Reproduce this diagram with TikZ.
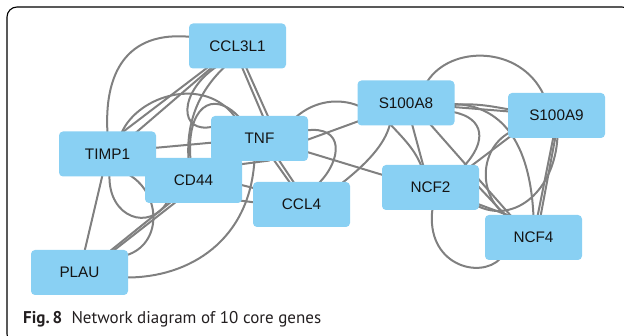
\documentclass[tikz,border=0pt]{standalone}
\usepackage{fontspec}
\setmainfont{Liberation Sans}
\newfontfamily\capfont{PT Sans}
\usetikzlibrary{calc}
\definecolor{nodeblue}{RGB}{137,208,243}
\definecolor{edgegray}{RGB}{128,128,128}
\definecolor{captext}{RGB}{35,31,32}
\pgfdeclarelayer{edges}
\pgfsetlayers{edges,main}
\begin{document}
\begin{tikzpicture}[x=1pt,y=-1pt,
  gene/.style={fill=nodeblue, rounded corners=4pt, minimum width=97pt, minimum height=45pt,
    inner sep=0pt, font=\fontsize{15.3}{18}\selectfont, text=black!92},
  link/.style={draw=edgegray, line width=2pt}]
\useasboundingbox (0,0) rectangle (624,336);
\clip (0,0) rectangle (624,336);
\draw[line width=1.1pt, rounded corners=10pt] (7,344) rectangle (632,7);

\node[gene] (CCL3L1) at (237.5,46) {CCL3L1};
\node[gene] (TIMP1) at (107.5,154) {TIMP1};
\node[gene] (CD44) at (193.5,180.5) {CD44};
\node[gene] (TNF) at (259.5,138.5) {TNF};
\node[gene] (CCL4) at (301.5,204.5) {CCL4};
\node[gene] (PLAU) at (79.5,272.5) {PLAU};
\node[gene] (S100A8) at (406,103) {S100A8};
\node[gene] (S100A9) at (556.5,115.5) {S100A9};
\node[gene] (NCF2) at (430.5,187.5) {NCF2};
\node[gene] (NCF4) at (533.5,237.5) {NCF4};

\begin{pgfonlayer}{edges}
% left cluster
\draw[link] ($(CCL3L1)+(-46,-9)$) .. controls (125,30) and (104,75) .. ($(TIMP1)+(0,-21)$);
\draw[link] ($(CCL3L1)+(-28,20)$) -- ($(TIMP1)+(14,-21)$);
\draw[link] ($(CCL3L1)+(-24,20)$) -- ($(TIMP1)+(28,-21)$);
\draw[link] ($(TIMP1)+(14,-21)$) .. controls (138,95) and (205,75) .. ($(TNF)+(-24,-21)$);
\draw[link] ($(TIMP1)+(46,-6)$) -- ($(TNF)+(-46,4)$);
\draw[link] ($(CCL3L1)+(4,20)$) -- ($(TNF)+(4,-21)$);
\draw[link] ($(CCL3L1)+(8,20)$) -- ($(TNF)+(9,-21)$);
\draw[link] ($(CCL3L1)+(-12,20)$) .. controls (200,90) and (186,120) .. ($(CD44)+(-5,-21)$);
\draw[link] ($(CCL3L1)+(-20,20)$) .. controls (178,92) and (178,135) .. ($(TNF)+(-46,-12)$);
\draw[link] ($(CD44)+(-3,-21)$) .. controls (186,108) and (212,88) .. ($(TNF)+(-20,-21)$);
\draw[link] ($(CD44)+(30,-14)$) -- ($(TNF)+(10,22)$);
\draw[link] ($(CD44)+(30,0)$) -- ($(CCL4)+(-30,-12)$);
\draw[link] ($(CD44)+(30,18)$) -- ($(CCL4)+(-30,0)$);
\draw[link] ($(TNF)+(14,21)$) -- ($(CCL4)+(-11,-21)$);
\draw[link] ($(TNF)+(19,21)$) -- ($(CCL4)+(-7,-21)$);
\draw[link] ($(PLAU)+(46,5)$) .. controls (190,278) and (250,240) .. ($(TNF)+(-5,21)$);
\draw[link] ($(PLAU)+(5,-21)$) -- ($(TIMP1)+(-5,21)$);
\draw[link] ($(PLAU)+(30,-21)$) -- ($(CD44)+(-22,21)$);
\draw[link] ($(PLAU)+(33,-21)$) -- ($(CD44)+(-17,21)$);
\draw[link] ($(PLAU)+(46,-17)$) .. controls (162,245) and (162,195) .. ($(TIMP1)+(22,21)$);
\draw[link] ($(TIMP1)+(2,21)$) .. controls (108,218) and (150,232) .. ($(CD44)+(-26,21)$);
% centre
\draw[link] ($(TNF)+(46,2)$) -- ($(S100A8)+(-47,18)$);
\draw[link] ($(TNF)+(36,-21)$) .. controls (315,100) and (340,98) .. ($(S100A8)+(-47,3)$);
\draw[link] ($(TNF)+(46,13)$) -- ($(NCF2)+(-46,-12)$);
\draw[link] ($(TNF)+(46,-8)$) .. controls (345,125) and (342,160) .. ($(CCL4)+(17,-21)$);
\draw[link] ($(CCL4)+(40,-21)$) .. controls (365,165) and (385,145) .. ($(S100A8)+(-16,21)$);
% right cluster
\draw[link] ($(S100A8)+(21,-21)$) .. controls (450,45) and (520,45) .. ($(S100A9)+(-13,-21)$);
\draw[link] ($(S100A8)+(47,2)$) .. controls (475,103) and (490,106) .. ($(S100A9)+(-47,-6)$);
\draw[link] ($(S100A8)+(47,4)$) -- ($(S100A9)+(-47,-4)$);
\draw[link] ($(S100A8)+(-16,21)$) .. controls (405,140) and (415,150) .. ($(NCF2)+(-9,-21)$);
\draw[link] ($(S100A8)+(6,21)$) -- ($(NCF2)+(-7,-21)$);
\draw[link] ($(S100A8)+(24,21)$) -- ($(NCF4)+(-22,-21)$);
\draw[link] ($(S100A8)+(47,9)$) .. controls (485,118) and (487,142) .. ($(NCF2)+(33,-21)$);
\draw[link] ($(S100A8)+(47,1)$) .. controls (500,105) and (530,140) .. ($(NCF4)+(0,-21)$);
\draw[link] ($(NCF2)+(40,-21)$) -- ($(S100A9)+(-45,20)$);
\draw[link] ($(S100A9)+(-3,21)$) -- ($(NCF4)+(4,-21)$);
\draw[link] ($(S100A9)+(-1,21)$) -- ($(NCF4)+(7,-21)$);
\draw[link] ($(S100A9)+(-47,17)$) .. controls (478,150) and (478,198) .. ($(NCF4)+(-25,-21)$);
\draw[link] ($(NCF2)+(46,18)$) .. controls (515,225) and (555,190) .. ($(S100A9)+(1,21)$);
\draw[link] ($(NCF2)+(46,16)$) -- ($(NCF4)+(-22,-21)$);
\draw[link] ($(NCF2)+(46,-3)$) -- ($(NCF4)+(-27,-21)$);
\draw[link] ($(NCF2)+(2,21)$) .. controls (425,265) and (480,280) .. ($(NCF4)+(-33,21)$);
\end{pgfonlayer}

\node[anchor=base west, inner sep=0pt, text=captext, font=\capfont\fontsize{17}{20}\selectfont] (caption) at (23,323.5)
  {\textbf{Fig.\,8}\hspace{0.55em}Network diagram of 10 core genes};
\end{tikzpicture}
\end{document}
